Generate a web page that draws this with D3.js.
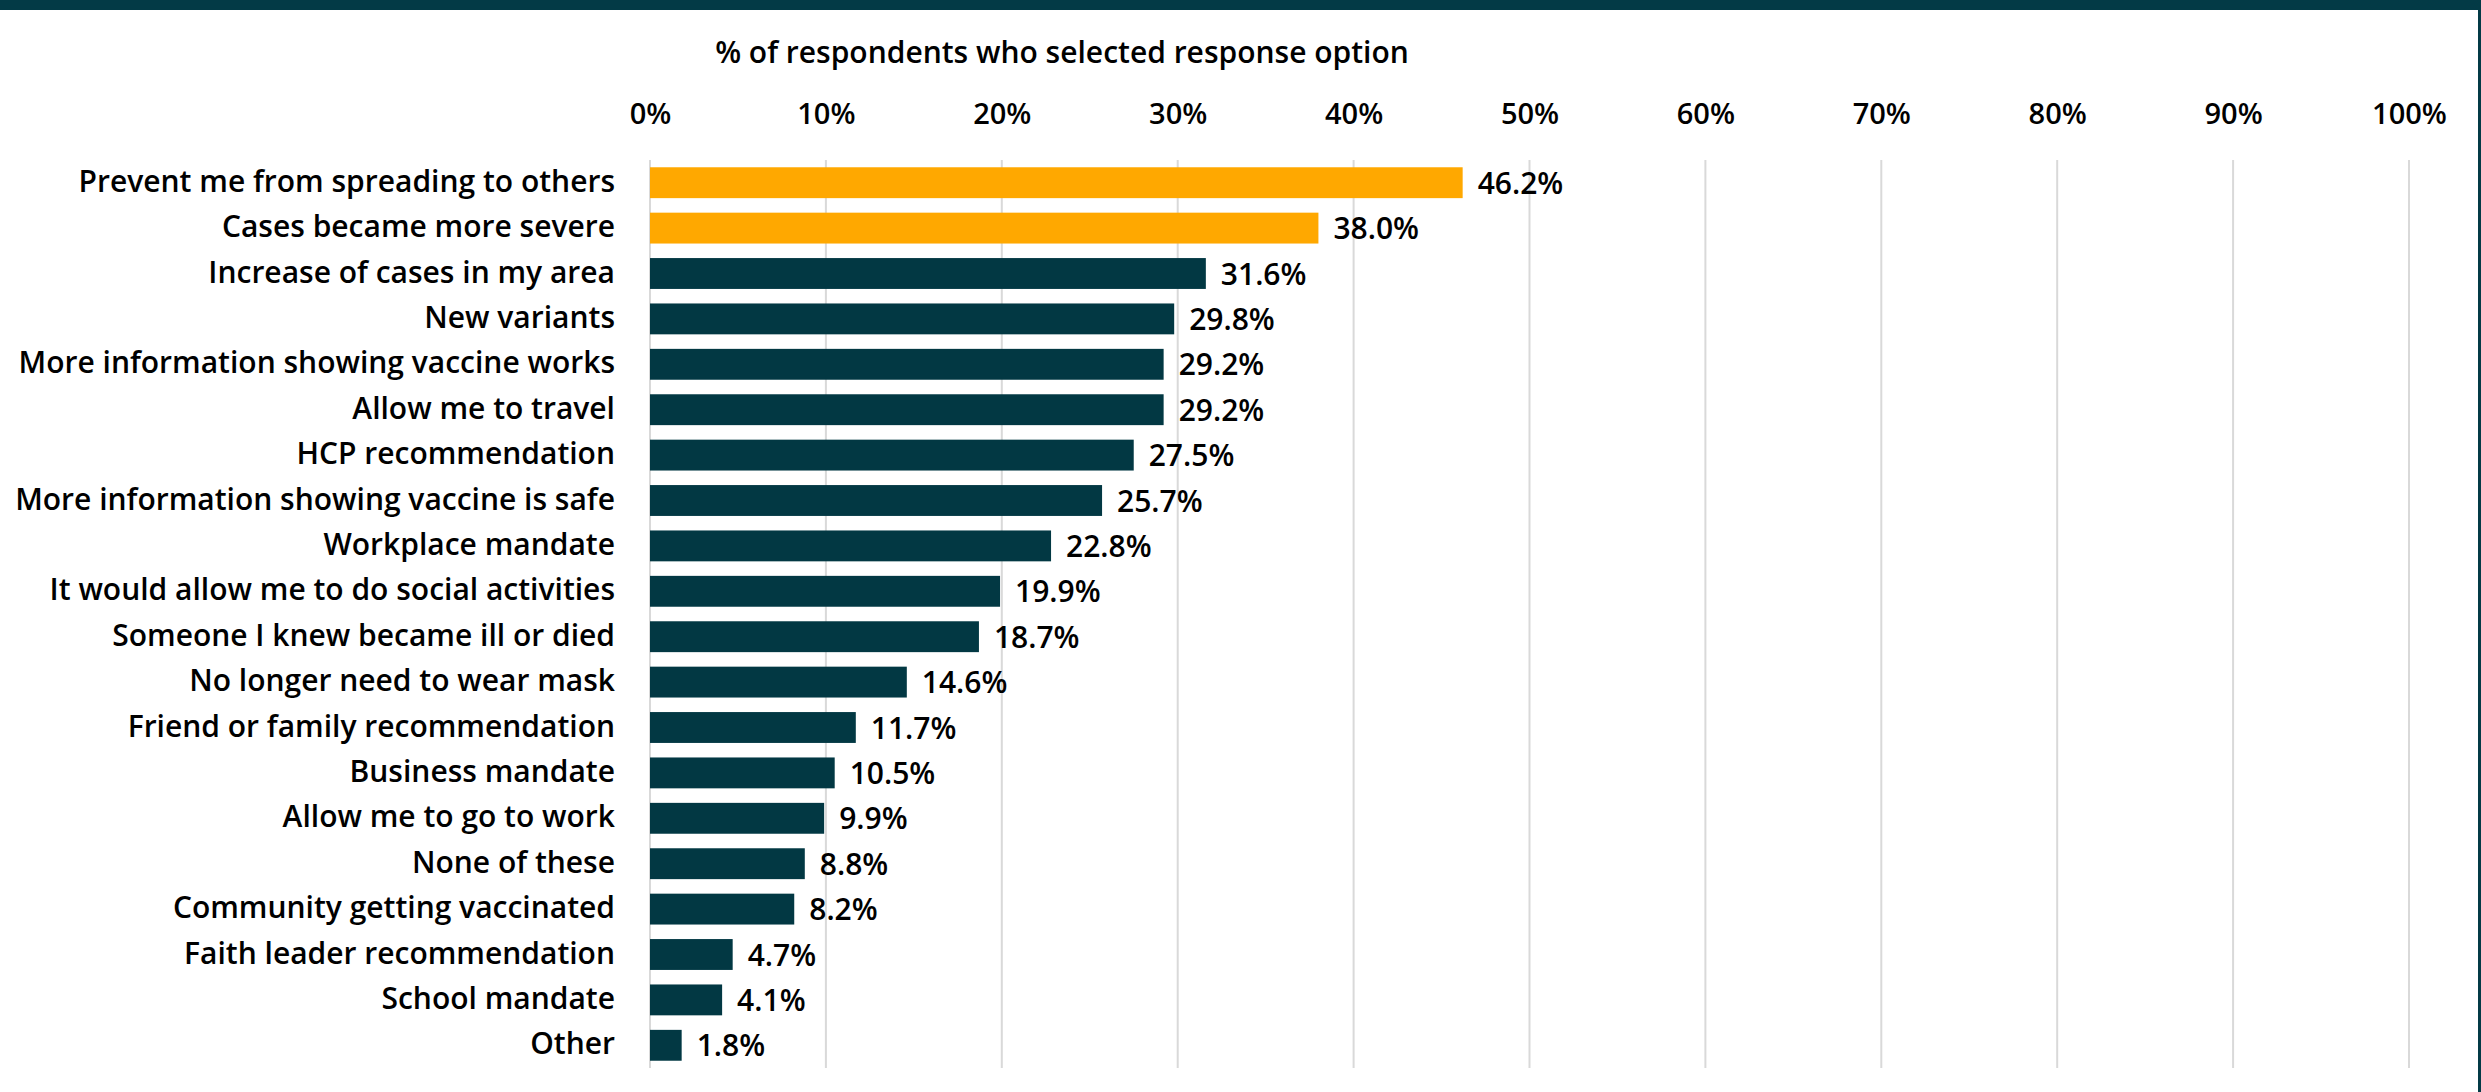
<!DOCTYPE html>
<html lang="en">
<head>
    <meta charset="UTF-8">
    <title>Reasons to get vaccinated</title>
    <script src="https://cdn.jsdelivr.net/npm/d3@7"></script>
    <style>
        body { margin: 0; background: #fff; }
        text { font-family: "Open Sans", "Noto Sans", sans-serif; font-weight: 600; fill: #000; }
    </style>
</head>
<body>
    <svg id="svg"></svg>
    <script>
        const categories = [
            "Prevent me from spreading to others",
            "Cases became more severe",
            "Increase of cases in my area",
            "New variants",
            "More information showing vaccine works",
            "Allow me to travel",
            "HCP recommendation",
            "More information showing vaccine is safe",
            "Workplace mandate",
            "It would allow me to do social activities",
            "Someone I knew became ill or died",
            "No longer need to wear mask",
            "Friend or family recommendation",
            "Business mandate",
            "Allow me to go to work",
            "None of these",
            "Community getting vaccinated",
            "Faith leader recommendation",
            "School mandate",
            "Other"
        ];
        const values = [46.2, 38.0, 31.6, 29.8, 29.2, 29.2, 27.5, 25.7, 22.8, 19.9,
                        18.7, 14.6, 11.7, 10.5, 9.9, 8.8, 8.2, 4.7, 4.1, 1.8];
        const highlighted = ["Prevent me from spreading to others", "Cases became more severe"];
        const xTicks = [0, 10, 20, 30, 40, 50, 60, 70, 80, 90, 100];
        const axisTitle = "% of respondents who selected response option";

        const width = 2481;
        const height = 1092;
        const data = categories.map((c, i) => ({ name: c, value: values[i] }));

        const svg = d3.select("#svg")
            .attr("width", width)
            .attr("height", height);

        const x = d3.scaleLinear().domain([0, 100]).range([650, 2409]);
        const y = d3.scaleBand().domain(categories).range([160, 1068]).paddingInner(0.32).paddingOuter(0.16);

        // frame
        svg.append("rect").attr("x", 0).attr("y", 0).attr("width", width).attr("height", 10).attr("fill", "#033a46");
        svg.append("rect").attr("x", width - 3).attr("y", 0).attr("width", 3).attr("height", height).attr("fill", "#033a46");

        // grid lines
        svg.append("g")
            .selectAll("line")
            .data(xTicks)
            .enter()
            .append("line")
            .attr("x1", d => x(d))
            .attr("x2", d => x(d))
            .attr("y1", 160)
            .attr("y2", 1068)
            .attr("stroke", "#d9d9d9")
            .attr("stroke-width", 2);

        // tick labels
        const axis = svg.append("g")
            .attr("transform", "translate(0,160)")
            .call(d3.axisTop(x).tickValues(xTicks).tickSize(0).tickPadding(36).tickFormat(d => d + "%"));
        axis.select(".domain").remove();
        axis.selectAll("text")
            .style("font-family", '"Open Sans", sans-serif')
            .style("font-weight", 600)
            .style("font-size", "29px")
            .attr("fill", "#000");

        svg.append("text")
            .attr("x", 1062)
            .attr("y", 63)
            .attr("text-anchor", "middle")
            .style("font-size", "30px")
            .text(axisTitle);

        // bars
        svg.append("g")
            .selectAll("rect")
            .data(data)
            .enter()
            .append("rect")
            .attr("x", x(0))
            .attr("y", d => y(d.name))
            .attr("width", d => x(d.value) - x(0))
            .attr("height", y.bandwidth())
            .attr("fill", d => highlighted.includes(d.name) ? "#ffa800" : "#023843");

        // value labels
        svg.append("g")
            .selectAll("text")
            .data(data)
            .enter()
            .append("text")
            .attr("x", d => x(d.value) + 15)
            .attr("y", d => y(d.name) + y.bandwidth() / 2 + 3)
            .attr("dominant-baseline", "middle")
            .style("font-size", "30px")
            .text(d => d.value.toFixed(1) + "%");

        // category labels
        svg.append("g")
            .selectAll("text")
            .data(data)
            .enter()
            .append("text")
            .attr("x", 615)
            .attr("y", d => y(d.name) + y.bandwidth() / 2 + 1)
            .attr("text-anchor", "end")
            .attr("dominant-baseline", "middle")
            .style("font-size", "30px")
            .text(d => d.name);
    </script>
</body>
</html>
